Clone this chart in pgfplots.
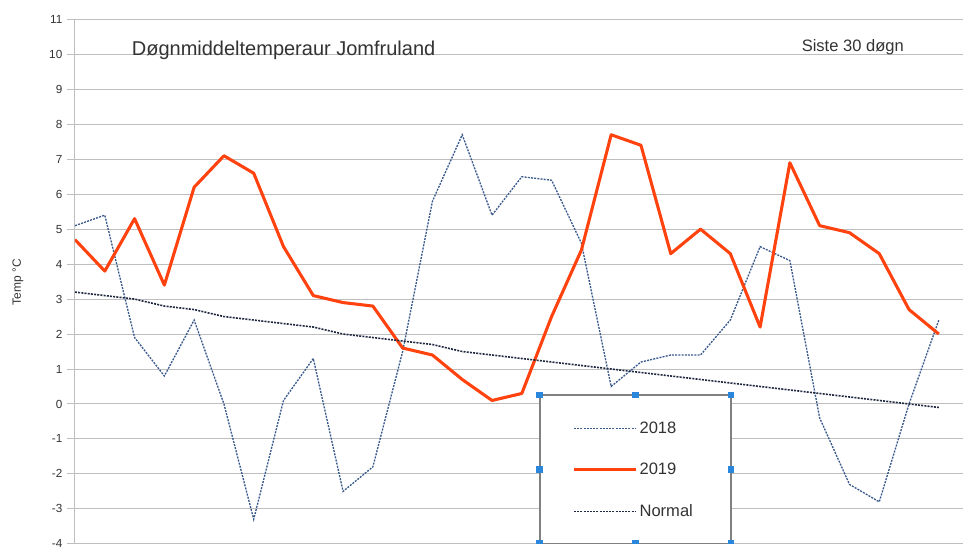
\documentclass[border=0pt]{standalone}
\usepackage{pgfplots}
\pgfplotsset{compat=1.18}
\usepackage{fontspec}
\setmainfont{Liberation Sans}
\definecolor{c2018}{RGB}{58,90,140}
\definecolor{c2019}{RGB}{255,66,14}
\definecolor{cnorm}{RGB}{30,40,64}
\definecolor{gridc}{RGB}{190,190,190}
\definecolor{txtc}{RGB}{51,51,51}
\definecolor{handle}{RGB}{42,135,220}
\tikzset{hnd/.style={fill=handle, minimum size=5pt, inner sep=0pt}}
\begin{document}
\begin{tikzpicture}
\begin{axis}[
  name=ax,
  scale only axis,
  width=670.2pt, height=393.3pt,
  xmin=0, xmax=30, ymin=-4, ymax=11,
  axis lines=left,
  axis line style={gridc, line width=0.75pt, -},
  xtick=\empty,
  ytick={-4,-3,...,11},
  ymajorgrids,
  major grid style={gridc, line width=0.75pt},
  tick align=outside,
  major tick length=6pt,
  tick style={gridc, line width=0.75pt},
  /pgf/number format/assume math mode=true,
  yticklabel style={font=\fontsize{8.8}{10}\selectfont, text=txtc},
  ylabel={Temp °C},
  ylabel style={at={(axis description cs:-0.0638,0.499)}, anchor=center, font=\fontsize{9}{10}\selectfont, text=txtc},
  legend style={at={(axis cs:16.56,-1.89)}, anchor=west, draw=none, fill=none,
    font=\fontsize{12.4}{14}\selectfont, text=txtc, row sep=18pt, column sep=0pt,
    nodes={inner sep=1.5pt}},
  legend cell align=left,
  legend image code/.code={\draw[#1] (0pt,0pt) -- (46.5pt,0pt);},
]
\addplot[c2018, line width=1pt, dash pattern=on 1.5pt off 0.9pt] coordinates {
(0,5.1)(1,5.4)(2,1.9)(3,0.8)(4,2.4)(5,0.0)(6,-3.3)(7,0.1)(8,1.3)(9,-2.5)
(10,-1.8)(11,1.5)(12,5.8)(13,7.7)(14,5.4)(15,6.5)(16,6.4)(17,4.6)(18,0.5)(19,1.2)
(20,1.4)(21,1.4)(22,2.4)(23,4.5)(24,4.1)(25,-0.4)(26,-2.3)(27,-2.8)(28,0.0)(29,2.4)};
\addlegendentry{2018}
\addplot[c2019, line width=2.3pt, line join=round] coordinates {
(0,4.7)(1,3.8)(2,5.3)(3,3.4)(4,6.2)(5,7.1)(6,6.6)(7,4.5)(8,3.1)(9,2.9)
(10,2.8)(11,1.6)(12,1.4)(13,0.7)(14,0.1)(15,0.3)(16,2.5)(17,4.4)(18,7.7)(19,7.4)
(20,4.3)(21,5.0)(22,4.3)(23,2.2)(24,6.9)(25,5.1)(26,4.9)(27,4.3)(28,2.7)(29,2.0)};
\addlegendentry{2019}
\addplot[cnorm, line width=1.2pt, dash pattern=on 1.5pt off 0.9pt] coordinates {
(0,3.2)(1,3.1)(2,3.0)(3,2.8)(4,2.7)(5,2.5)(6,2.4)(7,2.3)(8,2.2)(9,2.0)
(10,1.9)(11,1.8)(12,1.7)(13,1.5)(14,1.4)(15,1.3)(16,1.2)(17,1.1)(18,1.0)(19,0.9)
(20,0.8)(21,0.7)(22,0.6)(23,0.5)(24,0.4)(25,0.3)(26,0.2)(27,0.1)(28,0.0)(29,-0.1)};
\addlegendentry{Normal}
\draw[fill=white, draw=gray, line width=1.4pt] (axis cs:15.6,0.26) rectangle (axis cs:22.02,-4);
\node[hnd] at (axis cs:15.6,0.26) {};
\node[hnd] at (axis cs:18.81,0.26) {};
\node[hnd] at (axis cs:22.02,0.26) {};
\node[hnd] at (axis cs:15.6,-1.87) {};
\node[hnd] at (axis cs:22.02,-1.87) {};
\node[hnd] at (axis cs:15.6,-4) {};
\node[hnd] at (axis cs:18.81,-4) {};
\node[hnd] at (axis cs:22.02,-4) {};
\node[anchor=base west, inner sep=0pt, text=txtc, font=\fontsize{15}{18}\selectfont] at (axis cs:1.90,9.98) {Døgnmiddeltemperaur Jomfruland};
\node[anchor=base west, inner sep=0pt, text=txtc, font=\fontsize{12.4}{14}\selectfont] at (axis cs:24.39,10.08) {Siste 30 døgn};
\end{axis}
\pgfresetboundingbox
\path[use as bounding box] ([xshift=-56.25pt,yshift=-2.4pt]ax.south west) rectangle ([xshift=666pt,yshift=407.85pt]ax.south west);
\end{tikzpicture}
\end{document}
